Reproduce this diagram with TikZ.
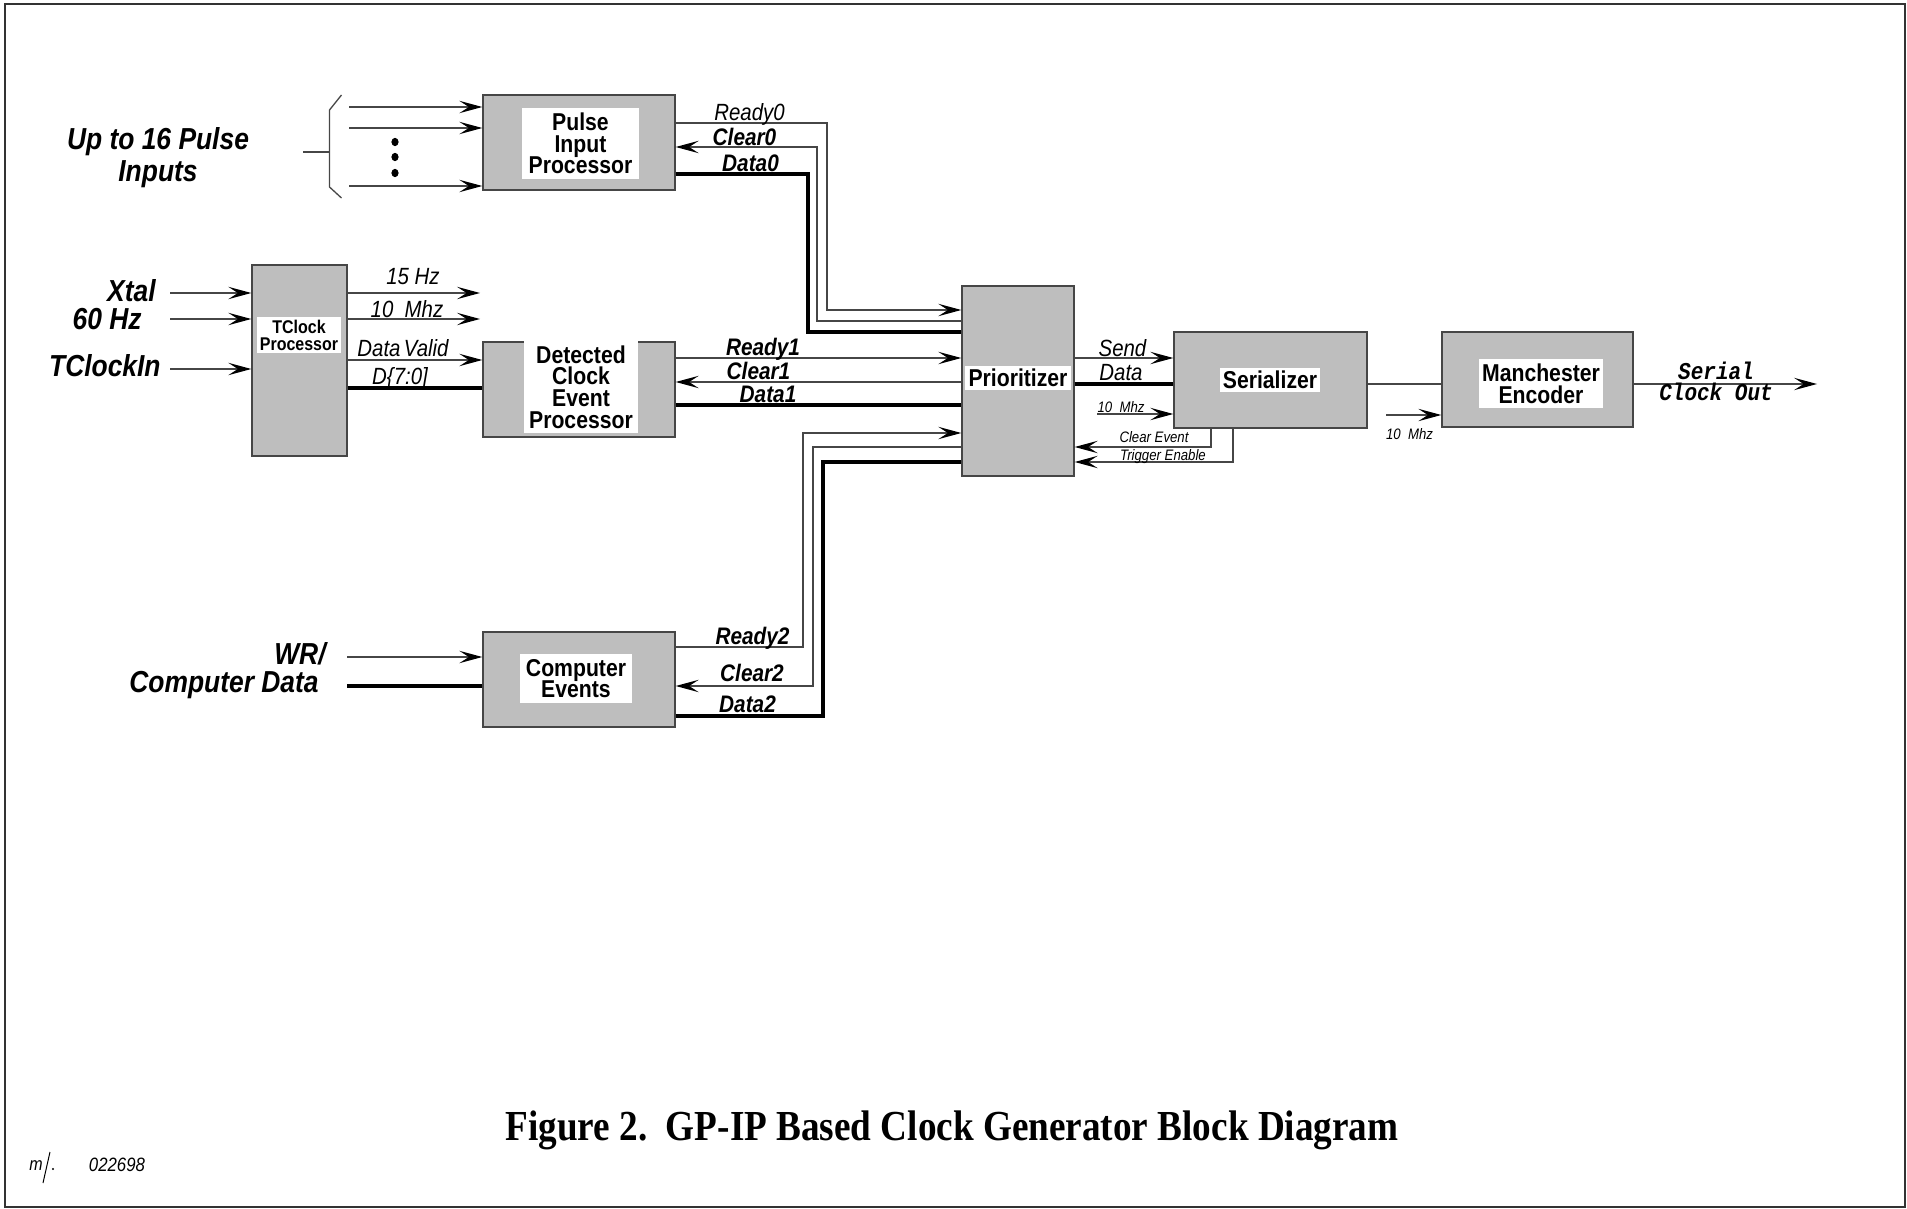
\documentclass[tikz,border=0pt]{standalone}
\usepackage{fontspec}
\newfontfamily\hvf{Liberation Sans}
\newfontfamily\couf{Liberation Mono}
\newfontfamily\tmsf{Liberation Serif}
\usetikzlibrary{arrows.meta}
\definecolor{boxgray}{RGB}{190,190,190}
\definecolor{boxedge}{RGB}{70,70,70}
\definecolor{wirec}{RGB}{70,70,70}
\begin{document}
\lineskiplimit=-20pt
\lineskip=0pt
\begin{tikzpicture}[x=0.5pt,y=-0.5pt, line join=miter,
  blk/.style={draw=boxedge, fill=boxgray, line width=0.7pt, inner sep=0pt},
  inlbl/.style={fill=white, inner xsep=2.5pt, inner ysep=2pt, align=center, yscale=1.15,
    font=\hvf\bfseries\fontsize{10.6}{9.4}\selectfont},
  wire/.style={draw=wirec, line width=0.65pt},
  arr/.style={wire, -{Stealth[length=11.5pt,width=6.2pt,inset=4.8pt,color=black]}},
  bus/.style={draw=black, line width=1.8pt},
  biglab/.style={inner sep=0pt, yscale=1.15, text height=9.5pt, text depth=0pt,
    font=\hvf\bfseries\itshape\fontsize{13.2}{13.9}\selectfont},
  bigmulti/.style={inner sep=0pt, yscale=1.15, align=center,
    font=\hvf\bfseries\itshape\fontsize{13.2}{13.9}\selectfont},
  siglab/.style={inner sep=0pt, yscale=1.15, text height=7.5pt, text depth=0pt,
    font=\hvf\bfseries\itshape\fontsize{10.4}{10.4}\selectfont},
  itlab/.style={inner sep=0pt, yscale=1.15, text height=7.3pt, text depth=0pt,
    font=\hvf\itshape\fontsize{10.2}{10.2}\selectfont},
  smlab/.style={inner sep=0pt, yscale=1.15, text height=4.7pt, text depth=0pt,
    font=\hvf\itshape\fontsize{6.6}{6.6}\selectfont},
]
\useasboundingbox (0,0) rectangle (1907,1209);
\draw[draw=black!80, line width=0.9pt] (5,4) rectangle (1905,1207);

% ---------- blocks ----------
\node[blk, minimum width=96pt, minimum height=47.5pt] (pip) at (579,142.5) {};
\node[blk, minimum width=47.5pt, minimum height=95.5pt] (tcp) at (299.5,360.5) {};
\node[blk, minimum width=96pt, minimum height=47.5pt] (dce) at (579,389.5) {};
\node[blk, minimum width=96pt, minimum height=47.5pt] (ce) at (579,679.5) {};
\node[blk, minimum width=56pt, minimum height=95pt] (pri) at (1018,381) {};
\node[blk, minimum width=96.5pt, minimum height=48pt] (ser) at (1270.5,380) {};
\node[blk, minimum width=95.5pt, minimum height=47.5pt] (man) at (1537.5,379.5) {};

\node[inlbl, inner xsep=3.5pt] (pipl) at (580.5,143.5) {Pulse\\Input\\Processor};
\node[inlbl, inner xsep=2.75pt] (dcel) at (581,387) {Detected\\Clock\\Event\\Processor};
\node[inlbl, inner xsep=3pt] (cel) at (576,678.5) {Computer\\Events};
\node[inlbl, inner xsep=1.75pt, inner ysep=1.2pt] (pril) at (1018,378) {Prioritizer};
\node[inlbl, inner xsep=1.2pt, inner ysep=1.5pt] (serl) at (1270,380) {Serializer};
\node[inlbl, inner xsep=1.5pt] (manl) at (1541,383.5) {Manchester\\Encoder};
\node[inlbl, inner xsep=1.5pt, inner ysep=1.2pt,
  font=\hvf\bfseries\fontsize{8}{7.4}\selectfont] (tcpl) at (299,335) {TClock\\Processor};

% ---------- pulse inputs ----------
\node[bigmulti] (upto) at (158,158) {Up to 16 Pulse\\Inputs};
\coordinate (p1) at (349,107);
\coordinate (p2) at (349,128);
\coordinate (p3) at (349,186);
\draw[arr] (p1) -- (pip.west |- p1);
\draw[arr] (p2) -- (pip.west |- p2);
\draw[arr] (p3) -- (pip.west |- p3);
\draw[wire] (341.5,95) -- (329.5,110) -- (329.5,187) -- (341.5,198);
\draw[wire] (303,152) -- (329.5,152);
\fill (395,142) ellipse [x radius=1.8pt, y radius=2.1pt];
\fill (395,157) ellipse [x radius=1.8pt, y radius=2.1pt];
\fill (395,173) ellipse [x radius=1.8pt, y radius=2.1pt];

% ---------- TClock inputs ----------
\node[biglab, anchor=east] (xtal) at (156,291) {Xtal};
\node[biglab, anchor=east] (hz60) at (142,319) {60 Hz};
\node[biglab, anchor=east] (tcin) at (161,366) {TClockIn};
\coordinate (t1) at (170,293);
\coordinate (t2) at (170,319);
\coordinate (t3) at (170,369);
\draw[arr] (t1) -- (tcp.west |- t1);
\draw[arr] (t2) -- (tcp.west |- t2);
\draw[arr] (t3) -- (tcp.west |- t3);

% ---------- TClock outputs ----------
\coordinate (o1) at (480,293);
\coordinate (o2) at (480,319);
\draw[arr] (tcp.east |- o1) -- (o1);
\draw[arr] (tcp.east |- o2) -- (o2);
\draw[arr] (tcp.east |- 0,360) -- (dce.west |- 0,360);
\draw[bus] (tcp.east |- 0,388) -- (dce.west |- 0,388);
\node[itlab] at (413,276) {15 Hz};
\node[itlab] at (407,309) {10\ \ Mhz};
\node[itlab] at (403,348) {Data\,Valid};
\node[itlab] at (400,376) {D\{7:0]};

% ---------- group 0 ----------
\draw[arr] (pip.east |- 0,123) -| (827,310) -- (pri.west |- 0,310);
\draw[arr] (pri.west |- 0,321) -| (817,147) -- (pip.east |- 0,147);
\draw[bus] (pip.east |- 0,174) -| (808,332) -- (pri.west |- 0,332);
\node[itlab] at (749.5,112) {Ready0};
\node[siglab] at (744.5,137) {Clear0};
\node[siglab] at (750.5,163) {Data0};

% ---------- group 1 ----------
\draw[arr] (dce.east |- 0,358) -- (pri.west |- 0,358);
\draw[arr] (pri.west |- 0,382) -- (dce.east |- 0,382);
\draw[bus] (dce.east |- 0,405) -- (pri.west |- 0,405);
\node[siglab] at (763,347) {Ready1};
\node[siglab] at (758.5,371) {Clear1};
\node[siglab] at (768,394) {Data1};

% ---------- group 2 ----------
\draw[arr] (ce.east |- 0,647) -| (803,433) -- (pri.west |- 0,433);
\draw[arr] (pri.west |- 0,447) -| (813,686) -- (ce.east |- 0,686);
\draw[bus] (ce.east |- 0,716) -| (823,462) -- (pri.west |- 0,462);
\node[siglab] at (752.5,636) {Ready2};
\node[siglab] at (752,673) {Clear2};
\node[siglab] at (747.5,704) {Data2};

% ---------- computer inputs ----------
\node[biglab, anchor=east] (wr) at (326,654) {WR/};
\node[biglab, anchor=east] (cdat) at (319,682) {Computer Data};
\coordinate (w1) at (347,657);
\coordinate (w2) at (347,686);
\draw[arr] (w1) -- (ce.west |- w1);
\draw[bus] (w2) -- (ce.west |- w2);

% ---------- prioritizer / serializer ----------
\draw[arr] (pri.east |- 0,358) -- (ser.west |- 0,358);
\draw[bus] (pri.east |- 0,384) -- (ser.west |- 0,384);
\coordinate (m1) at (1097,414);
\draw[arr] (m1) -- (ser.west |- m1);
\draw[arr] (ser.south -| 1211,0) |- (pri.east |- 0,447);
\draw[arr] (ser.south -| 1233,0) |- (pri.east |- 0,462);
\node[itlab] at (1122.5,348) {Send};
\node[itlab] at (1121,372) {Data};
\node[smlab] at (1121,407) {10\ \ Mhz};
\node[smlab] at (1154,437) {Clear Event};
\node[smlab] at (1163,455) {Trigger Enable};

% ---------- serializer / manchester ----------
\draw[wire] (ser.east |- 0,384) -- (man.west |- 0,384);
\coordinate (m2) at (1386,415);
\draw[arr] (m2) -- (man.west |- m2);
\node[smlab] at (1409.5,434) {10\ \ Mhz};
\coordinate (sout) at (1817,384);
\draw[arr] (man.east |- sout) -- (sout);
\node[inner sep=0pt, yscale=1.15, align=center,
  font=\couf\bfseries\itshape\fontsize{10.5}{9.2}\selectfont] (scl) at (1716,381.5) {Serial\\Clock Out};

% ---------- caption ----------
\node[inner sep=0pt, yscale=1.15, font=\tmsf\bfseries\fontsize{18.6}{20}\selectfont] (title) at (952,1130)
  {Figure 2.\ \ GP-IP Based Clock Generator Block Diagram};
\node[inner sep=0pt, yscale=1.15, font=\hvf\itshape\fontsize{8.4}{8.4}\selectfont] (date) at (117,1165) {022698};
\node[inner sep=0pt, yscale=1.15, font=\hvf\itshape\fontsize{8}{8}\selectfont] (sig) at (36,1166) {m};
\draw[line width=0.5pt] (43,1183) -- (50,1152);
\fill (53,1169) circle [radius=0.6pt];
\end{tikzpicture}
\end{document}
